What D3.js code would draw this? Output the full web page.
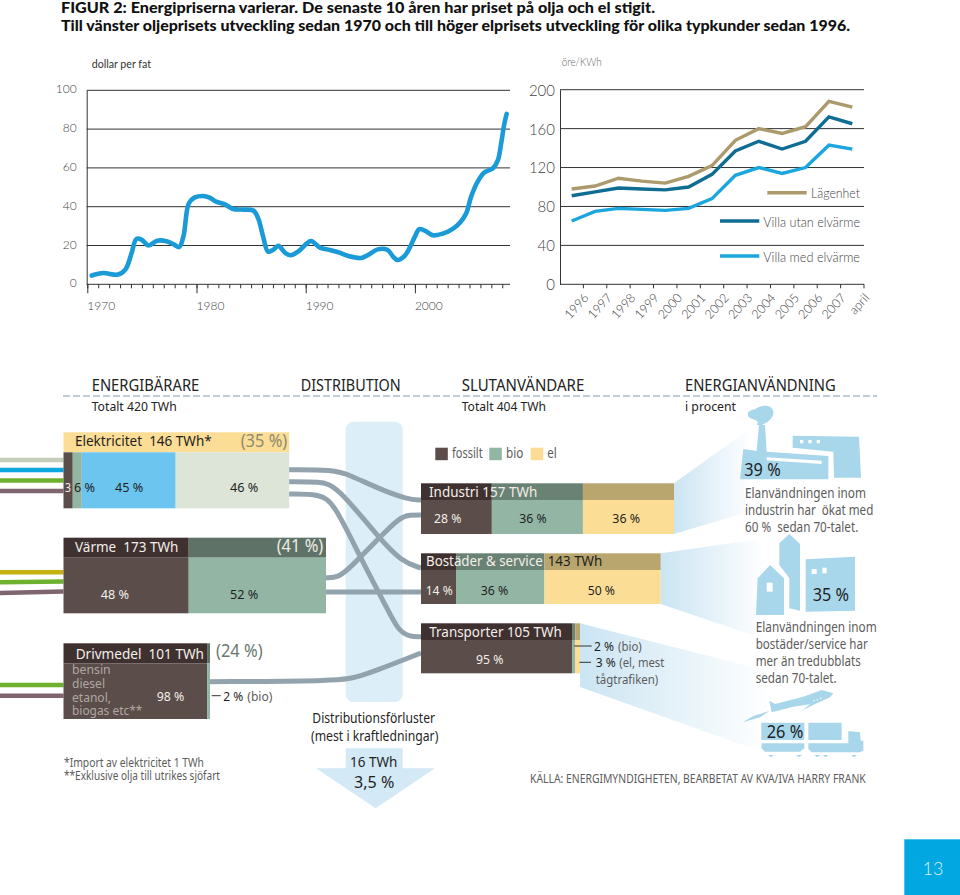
<!DOCTYPE html>
<html><head><meta charset="utf-8"><title>Figur 2</title>
<script src="https://cdnjs.cloudflare.com/ajax/libs/d3/7.8.5/d3.min.js"></script>
<style>html,body{margin:0;padding:0;background:#fff}svg{display:block}text{white-space:pre}</style></head>
<body><div id="c"></div>
<script>
// ---------- data ----------
const oilYears=[1970.4,1971.46,1972.8,1973.5,1974.05,1974.5,1975,1975.6,1976.4,1977.25,1977.85,1978.4,1978.8,1979.3,1979.85,1980.6,1981.2,1981.8,1982.6,1983.35,1984.3,1985.2,1985.65,1986.1,1986.55,1987,1987.5,1988.1,1988.6,1989.3,1990.05,1990.5,1991.3,1992.2,1993,1993.9,1995.1,1995.7,1996.6,1997.5,1998,1998.4,1999,1999.5,2000,2000.4,2000.9,2001.65,2002.55,2003.5,2004.2,2004.7,2005.15,2005.75,2006.35,2007.15,2007.6,2007.9,2008.2,2008.4];
const oilPrice=[4.5,5.8,5,7.7,16,23.4,22.9,20,22.5,22.2,20.8,19.2,24.6,41.8,44.8,45.5,44.7,42.6,41.2,38.8,38.5,38,34,24.6,16.8,17.7,19.8,16.3,15,16.8,20.8,22.3,18.9,17.7,16.5,14.6,13.6,15.1,18,17.7,14.3,12.5,14.3,18.6,24.6,28.4,27.7,25.3,26.1,28.7,32.3,36.6,45.2,52.9,57.6,59.8,64,72.7,83,87.8];
const oilYTicks=[0,20,40,60,80,100];
const oilXLabels=[1970,1980,1990,2000];
const elPeriods=["1996","1997","1998","1999","2000","2001","2002","2003","2004","2005","2006","2007","april"];
const elYTicks=[0,40,80,120,160,200];
const lagenhet=[98,101,109,106,104,111,122,148,160,155,162,188,182];
const villaUtan=[91,95,99,98,97,100,113,137,147,139,147,172,165];
const villaMed=[65,75,78,77,76,78,88,112,120,114,120,143,139];
const elSeriesNames=["Lägenhet","Villa utan elvärme","Villa med elvärme"];
const elecLabels=[3,6,45,46], elecDrawn=[4.1,4.0,41.6,50.3];
const heatShares=[47.7,52.3];
const fuelShares=[98,2];
const industryShares=[28,36,36];
const homeLabels=[14,36,50], homeDrawn=[14.6,36.9,48.5];
const transportShares=[95,2,3];
const flowE1=[[289,469.7],[289,469.7],[333,469.7],[350,475],[379,489],[408,499.5],[421,500],[421,500]];
const flowE2=[[289,481.7],[289,481.7],[320,481.7],[336,485],[379,538],[402,562],[421,568],[421,568]];
const flowE3=[[289,494],[289,494],[320,494],[334,503],[360,557],[388,610],[398,630],[409,636.7],[421,636.7],[421,636.7]];
const flowH1=[[326,577.7],[326,577.7],[338,577.7],[350,568],[379,538],[400,517],[410,515],[421,515],[421,515]];
const flowH2=[[326,592],[326,592],[421,592],[421,592]];
const flowF1=[[210,681.7],[210,681.7],[340,681],[360,677],[421,653],[421,653]];

// ---------- page ----------
const svg=d3.select("#c").append("svg").attr("width",960).attr("height",895).attr("viewBox","0 0 960 895");
const MY="'Noto Sans','Open Sans',sans-serif", GS="Lato,'Noto Sans',sans-serif";
function label(s,x,y,end,size,color,opt={}){
  const t=svg.append("text").attr("x",x).attr("y",y).text(s)
    .attr("font-family",opt.font||MY).attr("font-size",size).attr("fill",color)
    .attr("font-weight",opt.weight||400);
  if(end!=null) t.attr("textLength",end-x).attr("lengthAdjust","spacingAndGlyphs");
  return t;
}
label("FIGUR 2: Energipriserna varierar. De senaste 10 åren har priset på olja och el stigit.",61,13,655,14.5,"#111",{font:GS,weight:900});
label("Till vänster oljeprisets utveckling sedan 1970 och till höger elprisets utveckling för olika typkunder sedan 1996.",61,31,850,14.5,"#111",{font:GS,weight:900});

// ---------- oil chart ----------
const oilX=d3.scaleLinear().domain([1970,2000]).range([87.3,414.9]);
const oilY=d3.scaleLinear().domain([0,100]).range([284.3,90.3]);
const oil=svg.append("g");
oil.selectAll("line.g").data(oilYTicks.slice(1)).join("line").attr("class","g")
  .attr("x1",86.7).attr("x2",510).attr("y1",d=>oilY(d)).attr("y2",d=>oilY(d)).attr("stroke","#333").attr("stroke-width",1);
const oilYAxis=oil.append("g").attr("transform","translate(86.7,0)").call(d3.axisLeft(oilY).tickValues(oilYTicks).tickSize(0).tickPadding(10));
oilYAxis.selectAll("text").attr("font-family",GS).attr("font-size",12).attr("font-weight",300).attr("fill","#444").attr("dy","0.22em");
oilYAxis.select(".domain").attr("stroke","#333");
const minorAxis=oil.append("g").attr("transform","translate(0,284.3)").call(d3.axisBottom(oilX).tickValues(d3.range(1970,2009)).tickSize(4).tickFormat(""));
minorAxis.select(".domain").attr("d","M86.7,0H510").attr("stroke","#333");
minorAxis.selectAll("line").attr("stroke","#333");
const majorAxis=oil.append("g").attr("transform","translate(0,284.3)").call(d3.axisBottom(oilX).tickValues(oilXLabels).tickSize(9).tickPadding(8).tickFormat(d3.format("d")));
majorAxis.select(".domain").remove();
majorAxis.selectAll("line").attr("stroke","#333");
majorAxis.selectAll("text").attr("font-family",GS).attr("font-size",12).attr("font-weight",300).attr("fill","#444").attr("text-anchor","start").attr("x",-0.5);
oil.append("path").datum(oilYears.map((y,i)=>[y,oilPrice[i]]))
  .attr("fill","none").attr("stroke","#1a9ad6").attr("stroke-width",4.6).attr("stroke-linecap","round").attr("stroke-linejoin","round")
  .attr("d",d3.line().x(d=>oilX(d[0])).y(d=>oilY(d[1])).curve(d3.curveCatmullRom.alpha(0.5)));
label("dollar per fat",91.7,68,151,12,"#333",{font:GS});
label("öre/KWh",561.7,66,601.7,12,"#666",{font:GS,weight:300});

// ---------- electricity chart ----------
const elX=d3.scaleBand().domain(elPeriods).range([560,864]);
const elY=d3.scaleLinear().domain([0,200]).range([284.3,89.7]);
const el=svg.append("g");
el.selectAll("line.g").data(elYTicks.slice(1)).join("line").attr("class","g")
  .attr("x1",560).attr("x2",864).attr("y1",d=>elY(d)).attr("y2",d=>elY(d)).attr("stroke","#333").attr("stroke-width",1);
const elYAxis=el.append("g").attr("transform","translate(560,0)").call(d3.axisLeft(elY).tickValues(elYTicks).tickSize(0).tickPadding(5));
elYAxis.selectAll("text").attr("font-family",GS).attr("font-size",15).attr("font-weight",300).attr("fill","#444").attr("dy","0.36em");
elYAxis.select(".domain").attr("stroke","#333");
const elXAxis=el.append("g").attr("transform","translate(0,284.3)").call(d3.axisBottom(elX).tickSize(4));
elXAxis.select(".domain").attr("d","M560,0H864").attr("stroke","#333");
elXAxis.selectAll("line").attr("stroke","#333").attr("x1",elX.step()/2).attr("x2",elX.step()/2);
elXAxis.selectAll("text").attr("font-family",GS).attr("font-size",12.5).attr("font-weight",300).attr("fill","#444")
  .attr("text-anchor","end").attr("dy",0).attr("y",0)
  .attr("transform",`translate(${elX.step()/2+6},14) rotate(-48)`);
const elLine=d3.line().x((d,i)=>elX(elPeriods[i])+elX.bandwidth()/2).y(d=>elY(d));
const elColors=["#ab9a6c","#0f6c93","#1ca6de"];
[lagenhet,villaUtan,villaMed].forEach((s,i)=>{
  el.append("path").datum(s).attr("fill","none").attr("stroke",elColors[i]).attr("stroke-width",3.4).attr("d",elLine);
});
const lg=[[767.3,806.7,192.7,811,198],[720,759.3,221,763.3,227],[720,759.3,256,763.3,262]];
lg.forEach((g,i)=>{
  svg.append("line").attr("x1",g[0]).attr("x2",g[1]).attr("y1",g[2]).attr("y2",g[2]).attr("stroke",elColors[i]).attr("stroke-width",3.4);
  label(elSeriesNames[i],g[3],g[4],860,14,"#444",{font:GS,weight:300});
});

// ---------- section headers ----------
label("ENERGIBÄRARE",91.7,391,199.3,15.5,"#222");
label("DISTRIBUTION",300.7,391,400.7,15.5,"#222");
label("SLUTANVÄNDARE",461.7,391,584.3,15.5,"#222");
label("ENERGIANVÄNDNING",685,391,835.7,15.5,"#222");
svg.append("line").attr("x1",63).attr("x2",877).attr("y1",396).attr("y2",396).attr("stroke","#8a9aa5").attr("stroke-width",1.2).attr("stroke-dasharray","7 3");
label("Totalt 420 TWh",91.7,410.7,176.7,12.5,"#222");
label("Totalt 404 TWh",461.7,410.7,546,12.5,"#222");
label("i procent",685,410.7,736,12.5,"#222");

// ---------- gradients and fans ----------
const defs=svg.append("defs");
function grad(id,x1,x2,y1,y2,c){
  const g=defs.append("linearGradient").attr("id",id).attr("gradientUnits","userSpaceOnUse").attr("x1",x1).attr("x2",x2).attr("y1",y1).attr("y2",y2);
  g.append("stop").attr("offset",0).attr("stop-color",c);
  g.append("stop").attr("offset",1).attr("stop-color","#fff");
}
grad("gI",674,752,0,0,"#cbe5f3");
grad("gB",661,765,0,0,"#cbe5f3");
grad("gT",580,770,0,0,"#cbe5f3");
const poly=d3.line();
const fan=(pts,id)=>svg.append("path").attr("d",poly(pts)+"Z").attr("fill",`url(#${id})`);
fan([[674,483.3],[748,430],[748,512],[674,534]],"gI");
fan([[660.7,553.3],[796,534],[796,650],[660.7,604]],"gB");
fan([[580,623.3],[768,671],[768,754],[580,687]],"gT");

// ---------- distribution column ----------
svg.append("rect").attr("x",345.7).attr("y",421.7).attr("width",57).attr("height",280.3).attr("rx",8).attr("fill","#dceef8");
svg.append("path").attr("d",poly([[345.7,748.3],[402.7,748.3],[402.7,768.3],[435,768.3],[375.7,808.3],[316,768.3],[345.7,768.3]])+"Z").attr("fill","#d3e9f6");

// ---------- source stubs ----------
const stub=(y0,y1,c)=>svg.append("line").attr("x1",0).attr("x2",63.5).attr("y1",y0).attr("y2",y1).attr("stroke",c).attr("stroke-width",4.5);
stub(460,460,"#c3cdb9");stub(470,470,"#0aa6dc");stub(480.5,480.5,"#6eb12e");stub(491,491,"#7e6570");
stub(572.3,572.3,"#c5b212");stub(582.3,581.5,"#6eb12e");stub(593,591.5,"#7e6570");
stub(685,685,"#6eb12e");stub(695.7,695.7,"#7e6570");

// ---------- flows ----------
const flowLine=d3.line().curve(d3.curveBasis);
[flowF1,flowE1,flowE3,flowE2,flowH1,flowH2].forEach(f=>{
  svg.append("path").attr("d",flowLine(f)).attr("fill","none").attr("stroke","#93a3ad").attr("stroke-width",5);
});

// ---------- bars ----------
const FOS="#5a4d4a",BIO="#93b5a4",EL="#fbdd95",HF="#3f3130",HB="#6a8274",HE="#b9a66e";
function bar(x0,x1,yH,yB,yE,shares,body,head){
  const sx=d3.scaleLinear().domain([0,100]).range([x0,x1]);
  let cum=0;
  shares.forEach((v,i)=>{
    const a=sx(cum),w=sx(cum+v)-a;cum+=v;
    if(head) svg.append("rect").attr("x",a).attr("y",yH).attr("width",w).attr("height",yB-yH).attr("fill",head[i]);
    svg.append("rect").attr("x",a).attr("y",yB).attr("width",w).attr("height",yE-yB).attr("fill",body[i]);
  });
}
svg.append("rect").attr("x",63.5).attr("y",432.3).attr("width",225.7).attr("height",20).attr("fill",EL);
bar(63.5,289.2,432.3,452.3,508.3,elecDrawn,[FOS,BIO,"#6cc5ee","#dde5d8"]);
bar(63.5,326,537.7,557.7,613.3,heatShares,[FOS,BIO],[HF,"#5f7268"]);
bar(63.5,210,643.3,663.3,719,fuelShares,[FOS,BIO],[HF,"#5f7268"]);
bar(421,674,483.3,500,534,industryShares,[FOS,BIO,EL],[HF,HB,HE]);
bar(421,660.7,553.3,570,604,homeDrawn,[FOS,BIO,EL],[HF,HB,HE]);
bar(421,580,623.3,640,673.3,transportShares,[FOS,BIO,EL],[HF,HB,HE]);
const tick=(x1,x2,y)=>svg.append("line").attr("x1",x1).attr("x2",x2).attr("y1",y).attr("y2",y).attr("stroke","#333").attr("stroke-width",1);
tick(211.7,220.7,695.7);tick(574.3,591.7,646);tick(579.3,591,662.3);

// ---------- bar texts ----------
const W="#f3efe9",K="#1f1f1f",G="#5c5c5c";
label("Elektricitet  146 TWh*",75,446,211.7,15,K);
label("(35 %)",240.7,446.5,287.3,18,"#8d8a72");
label(String(elecLabels[0]),65,491.7,71,13,W);
label(elecLabels[1]+" %",74,491.7,95,13,K);
label(elecLabels[2]+" %",115,491.7,143.3,13,K);
label(elecLabels[3]+" %",230,491.7,258.3,13,K);
label("Värme  173 TWh",75,552.3,178.3,15,W);
label("(41 %)",276.7,552,323.3,18,"#ecebe2");
label("48 %",100.7,599.3,129,13,W);
label("52 %",230,599.3,258.3,13,K);
label("Drivmedel  101 TWh",75.7,659,204,15,W);
label("(24 %)",216,656.7,262.7,18,"#6b7870");
label("bensin",72,674,110.7,13,"#b0a7a2");
label("diesel",72,687.7,105,13,"#b0a7a2");
label("etanol,",72,701.7,111,13,"#b0a7a2");
label("biogas etc**",72,715,142.3,13,"#b0a7a2");
label("98 %",156.7,701,184.3,13,W);
label("2 %",223.3,700.7,243.3,13,K);
label("(bio)",247.3,700.7,272.3,13,G);
label("*Import av elektricitet 1 TWh",64,766.7,204,12,G);
label("**Exklusive olja till utrikes sjöfart",64,780,220,12,G);
label("Distributionsförluster",312.3,723.3,435,14,K);
label("(mest i kraftledningar)",311,740.7,438.3,14,K);
label("16 TWh",350,766.7,397.3,15,K);
label("3,5 %",354,787.7,394.3,17,K);

// legend
const legendNames=["fossilt","bio","el"];
[[435.3,452,482.7,FOS],[489.3,506,523.3,BIO],[530.7,547.3,556.7,EL]].forEach((l,i)=>{
  svg.append("rect").attr("x",l[0]).attr("y",447.7).attr("width",12.5).attr("height",12.5).attr("fill",l[3]);
  label(legendNames[i],l[1],458.3,l[2],14,G);
});
label("Industri 157 TWh",429,496.7,537.3,15,W);
label(industryShares[0]+" %",434,523.3,461.3,13,W);
label(industryShares[1]+" %",519.3,523.3,546.7,13,K);
label(industryShares[2]+" %",612.3,523.3,640,13,K);
label("Bostäder & service",426,566,542.7,15,W);
label("143 TWh",547.7,566,602.3,15,K);
label(homeLabels[0]+" %",425.7,595,452.7,13,W);
label(homeLabels[1]+" %",480.7,595,508.3,13,K);
label(homeLabels[2]+" %",587.7,595,615,13,K);
label("Transporter 105 TWh",429.3,636.7,561.7,15,W);
label(transportShares[0]+" %",476,664.3,503.3,13,W);
label(transportShares[1]+" %",594,650.7,614,13,K);
label("(bio)",618,650.7,641.7,13,G);
label(transportShares[2]+" %",595.7,667.3,615.7,13,K);
label("(el, mest",619.3,667.3,664.3,13,G);
label("tågtrafiken)",595.7,684,658.3,13,G);

// ---------- icons (drawn in a 3x grid) ----------
const ICON="#a8d6ea";
function icon(ox,oy,shapes,fill){
  const g=svg.append("g").attr("transform",`translate(${ox},${oy}) scale(${1/3})`);
  shapes.forEach(s=>g.append("path").attr("d",poly(s)+"Z").attr("fill",fill));
  return g;
}
const fac=icon(660,400,[
 [[250,147],[290,153],[297,75],[315,75],[320,155],[505,168],[505,238],[240,238]],
 [[398,107],[597,110],[603,233],[522,233],[520,155],[398,143]]],ICON);
fac.append("path").attr("d","M290,75C300,60 285,62 272,55C255,45 265,30 285,28C300,15 335,10 340,35C342,55 320,70 305,75Z").attr("fill",ICON);
icon(660,400,[[[320,172],[485,182],[485,192],[320,181]],[[420,120],[430,120],[430,130],[420,130]],[[445,120],[455,120],[455,130],[445,130]],[[470,120],[480,120],[480,130],[470,130]]],"#fff");
icon(660,400,[
 [[358,430],[388,402],[420,432],[420,632],[388,625],[388,535],[358,495]],
 [[288,645],[293,535],[330,495],[372,535],[372,645]],
 [[437,478],[585,470],[585,632],[437,635]]],ICON);
icon(660,400,[[[320,548],[338,548],[338,575],[320,575]],[[455,507],[470,507],[470,522],[455,522]],[[487,503],[500,503],[500,520],[487,520]]],"#fff");
const veh=icon(720,680,[
 [[148,62],[165,72],[250,50],[305,30],[340,40],[330,52],[285,72],[245,92],[270,73],[220,80],[155,97]],
 [[68,127],[100,108],[148,93],[120,112]],
 [[124,128],[253,128],[253,180],[124,180]],
 [[125,190],[253,190],[253,205],[240,215],[135,215],[125,205]],
 [[265,128],[365,128],[365,180],[265,180]],
 [[265,190],[385,190],[385,153],[420,157],[422,182],[430,182],[430,212],[418,217],[275,217],[265,207]],
 [[144,225],[162,225],[153,232]],[[228,225],[246,225],[237,232]],[[283,225],[301,225],[292,232]],[[308,225],[326,225],[317,232]],[[393,225],[411,225],[402,232]]],ICON);
icon(720,680,[[[280,60],[284,60],[284,64],[280,64]],[[290,57],[294,57],[294,61],[290,61]],[[300,53],[304,53],[304,57],[300,57]]],"#fff");

label("39 %",744.3,476,780.7,18,K);
label("Elanvändningen inom",745,498.3,866,14,G);
label("industrin har  ökat med",745,515,873.3,14,G);
label("60 %  sedan 70-talet.",745,532.3,858.3,14,G);
label("35 %",812.7,601,849,18,K);
label("Elanvändningen inom",755.7,631.7,876.7,14,G);
label("bostäder/service har",755.7,649,867.7,14,G);
label("mer än tredubblats",755.7,666,860.7,14,G);
label("sedan 70-talet.",755.7,682.7,836.7,14,G);
label("26 %",766.7,737.7,803.3,18,K);
label("KÄLLA: ENERGIMYNDIGHETEN, BEARBETAT AV KVA/IVA HARRY FRANK",530,783.3,865.7,13,G);

// ---------- page number ----------
svg.append("rect").attr("x",904.3).attr("y",839.3).attr("width",55.7).attr("height",55.7).attr("fill","#00a7e0");
label("13",933,875,null,18,"#d8f0fa",{font:GS,weight:300}).attr("text-anchor","middle");
</script></body></html>
